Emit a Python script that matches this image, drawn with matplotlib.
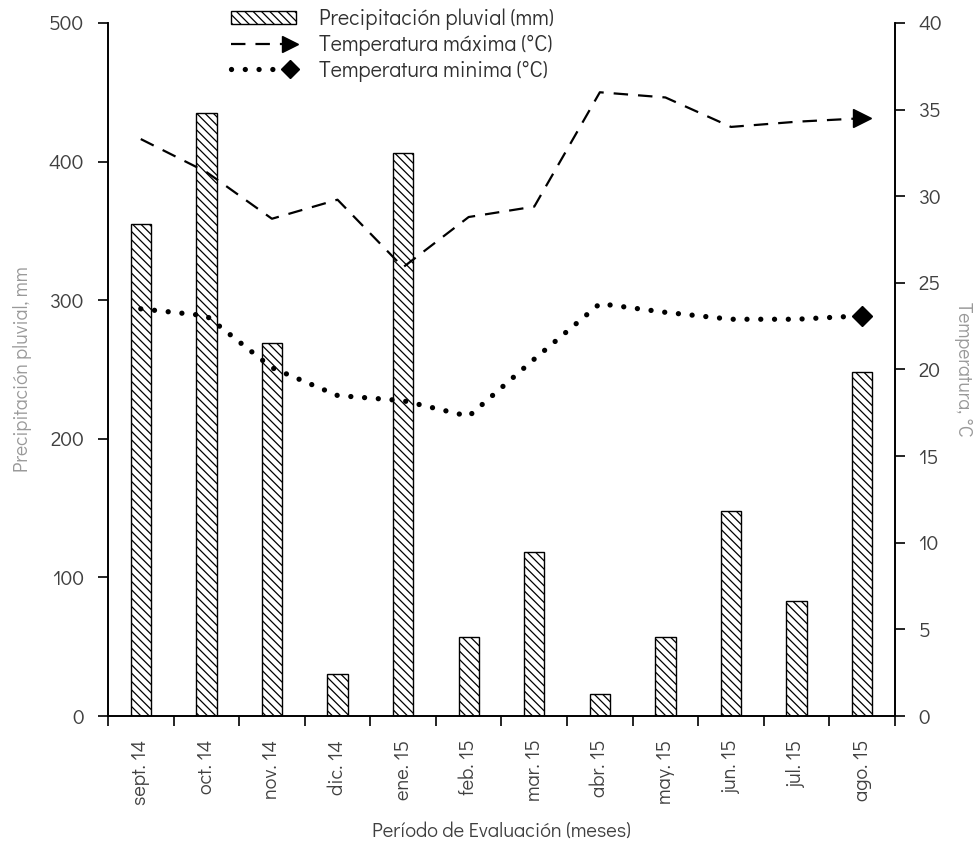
import matplotlib
matplotlib.use("Agg")
import matplotlib.pyplot as plt
import numpy as np
from matplotlib.lines import Line2D
from matplotlib.patches import Patch
from matplotlib.legend_handler import HandlerBase

months = ["sept. 14", "oct. 14", "nov. 14", "dic. 14", "ene. 15", "feb. 15",
          "mar. 15", "abr. 15", "may. 15", "jun. 15", "jul. 15", "ago. 15"]
precip = [355, 435, 269, 30, 406, 57, 118, 16, 57, 148, 83, 248]
tmax = [33.3, 31.4, 28.7, 29.8, 25.9, 28.8, 29.4, 36.0, 35.7, 34.0, 34.3, 34.5]
tmin = [23.5, 23.1, 20.1, 18.5, 18.2, 17.3, 20.6, 23.8, 23.3, 22.9, 22.9, 23.1]

plt.rcParams['font.family'] = ['Didact Gothic', 'URW Gothic', 'Questrial', 'Lato', 'DejaVu Sans']
plt.rcParams['hatch.linewidth'] = 0.9

fig = plt.figure(figsize=(9.78, 8.41), dpi=100)
ax = fig.add_axes([0.1104, 0.1486, 0.9151 - 0.1104, 0.9727 - 0.1486])
ax2 = ax.twinx()

HATCH = '\\' * 4
x = np.arange(len(months))
bars = ax.bar(x, precip, width=0.31, color='white', edgecolor='black',
              linewidth=1.0, hatch=HATCH, zorder=2)

dash_style = (0, (6.5, 4.5))
dot_style = (0, (0.01, 2.6))
l1, = ax2.plot(x, tmax, color='black', linestyle=dash_style, linewidth=1.6,
               marker='>', markersize=13, markevery=[len(x) - 1], zorder=3)
l2, = ax2.plot(x, tmin, color='black', linestyle=dot_style, linewidth=3.8,
               dash_capstyle='round', marker='D', markersize=10,
               markevery=[len(x) - 1], zorder=3)

ax.set_xlim(-0.5, len(x) - 0.5)
ax.set_ylim(0, 500)
ax2.set_ylim(0, 40)
ax.set_yticks(np.arange(0, 501, 100))
ax2.set_yticks(np.arange(0, 41, 5))

ax.set_xticks(x)
ax.set_xticklabels(months, rotation=90)
ax.set_xticks(np.arange(-0.5, len(x), 1), minor=True)
ax.tick_params(axis='x', which='major', length=0, pad=17, labelsize=14.5,
               labelcolor='#404040')
ax.tick_params(axis='x', which='minor', length=7, width=1.2, direction='out')
ax.tick_params(axis='y', length=7, width=1.2, direction='out', pad=10,
               labelsize=15, labelcolor='#404040')
ax2.tick_params(axis='y', length=7, width=1.2, direction='out', pad=10,
                labelsize=15, labelcolor='#404040')

for a in (ax, ax2):
    a.spines['top'].set_visible(False)
    for s in ('left', 'right', 'bottom'):
        a.spines[s].set_linewidth(1.2)
        a.spines[s].set_color('black')

ax.set_ylabel('Precipitación pluvial, mm', fontsize=14, color='#999999', labelpad=12)
ax2.set_ylabel('Temperatura, °C', fontsize=14, color='#999999', rotation=270,
               labelpad=22)
ax.set_xlabel('Período de Evaluación (meses)', fontsize=14.5, color='#404040',
              labelpad=12)


class EndMarkerHandler(HandlerBase):
    def __init__(self, ls, lw, marker, ms, **kw):
        super().__init__(**kw)
        self.ls, self.lw, self.marker, self.ms = ls, lw, marker, ms

    def create_artists(self, legend, orig, xdescent, ydescent, width, height,
                       fontsize, trans):
        y = height / 2 - ydescent
        ln = Line2D([-xdescent, width - xdescent - 4], [y, y],
                    linestyle=self.ls, color='black', linewidth=self.lw,
                    dash_capstyle='round' if self.ls is dot_style else 'butt')
        mk = Line2D([width - xdescent - 4], [y], marker=self.marker,
                    markersize=self.ms, color='black', linestyle='none')
        ln.set_transform(trans)
        mk.set_transform(trans)
        return [ln, mk]


h1 = Patch(facecolor='white', edgecolor='black', hatch=HATCH, linewidth=1.0)
leg = fig.legend([h1, l1, l2],
                 ['Precipitación pluvial (mm)', 'Temperatura máxima (°C)',
                  'Temperatura minima (°C)'],
                 loc='upper left', bbox_to_anchor=(231 / 978, 1 - 9 / 841),
                 frameon=False, fontsize=15.5, handlelength=3.0,
                 handleheight=0.55, handletextpad=1.1, labelspacing=0.2,
                 borderpad=0, borderaxespad=0,
                 handler_map={l1: EndMarkerHandler(dash_style, 1.6, '>', 11),
                              l2: EndMarkerHandler(dot_style, 3.8, 'D', 9)})
for t in leg.get_texts():
    t.set_color('#303030')

fig.savefig('out.png', dpi=100)
